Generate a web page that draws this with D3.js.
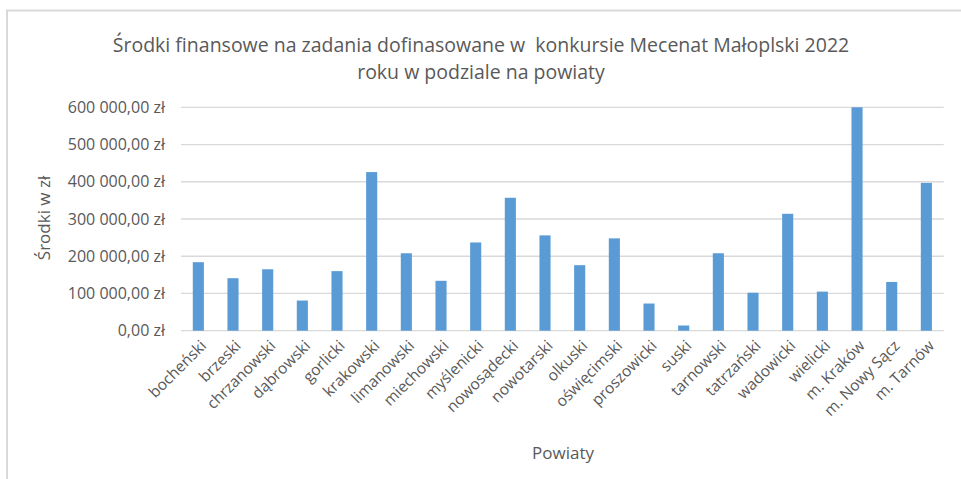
<!DOCTYPE html>
<html><head><meta charset="utf-8">
<script src="https://cdn.jsdelivr.net/npm/d3@7"></script>
<style>body{margin:0;background:#fff}svg{display:block}text{white-space:pre}</style>
</head><body>
<svg id="c" width="961" height="479"></svg>
<script>
const categories = ["bocheński","brzeski","chrzanowski","dąbrowski","gorlicki","krakowski","limanowski","miechowski","myślenicki","nowosądecki","nowotarski","olkuski","oświęcimski","proszowicki","suski","tarnowski","tatrzański","wadowicki","wielicki","m. Kraków","m. Nowy Sącz","m. Tarnów"];
const values = [184000,141000,165000,81000,160000,426000,208000,134000,237000,357000,256000,176000,248000,73000,14000,208000,102000,314000,105000,600000,131000,397000];
const yTicks = [0,100000,200000,300000,400000,500000,600000];
const titleLines = ["Środki finansowe na zadania dofinasowane w  konkursie Mecenat Małoplski 2022","roku w podziale na powiaty"];
const yTitle = "Środki w zł";
const xTitle = "Powiaty";

const font = "'Open Sans', Lato, sans-serif";
const txt = "#595959";
const svg = d3.select("#c");

// frame
svg.append("line").attr("x1",6).attr("x2",961).attr("y1",10.5).attr("y2",10.5).attr("stroke","#d9d9d9").attr("stroke-width",2);
svg.append("line").attr("x1",7).attr("x2",7).attr("y1",10).attr("y2",479).attr("stroke","#d9d9d9").attr("stroke-width",2);

const x = d3.scaleBand().domain(categories).range([181,943.7]).padding(0);
const y = d3.scaleLinear().domain([0,600000]).range([330.7,107.3]);

const fmt = v => d3.format(",.2f")(v).replace(/,/g," ").replace(".",",") + " zł";

// gridlines
svg.append("g").selectAll("line").data(yTicks).join("line")
  .attr("x1",181).attr("x2",943.7).attr("y1",d=>y(d)).attr("y2",d=>y(d))
  .attr("stroke","#d9d9d9").attr("stroke-width",1.3);

// y labels
svg.append("g").selectAll("text").data(yTicks).join("text")
  .attr("x",165).attr("y",d=>y(d)).attr("dy","0.35em").attr("text-anchor","end")
  .attr("font-family",font).attr("font-size",16).attr("fill",txt).text(fmt);

// bars
const bw = x.bandwidth();
svg.append("g").selectAll("rect").data(values).join("rect")
  .attr("x",(d,i)=>x(categories[i])+bw*0.34).attr("width",bw*0.32)
  .attr("y",d=>y(d)).attr("height",d=>y(0)-y(d)).attr("fill","#5b9bd5");

// x labels
svg.append("g").selectAll("text").data(categories).join("text")
  .attr("transform",d=>`translate(${x(d)+bw/2+5},${343}) rotate(-45)`)
  .attr("text-anchor","end").attr("dy","0.35em")
  .attr("font-family",font).attr("font-size",15.5).attr("fill",txt).text(d=>d);

// title
svg.append("g").selectAll("text").data(titleLines).join("text")
  .attr("x",481).attr("y",(d,i)=>52+i*27).attr("text-anchor","middle")
  .attr("font-family",font).attr("font-size",19.5).attr("fill",txt).text(d=>d);

// axis titles
svg.append("text").attr("transform","translate(50,218) rotate(-90)").attr("text-anchor","middle")
  .attr("font-family",font).attr("font-size",17).attr("fill",txt).text(yTitle);
svg.append("text").attr("x",563).attr("y",459).attr("text-anchor","middle")
  .attr("font-family",font).attr("font-size",17).attr("fill",txt).text(xTitle);
</script>
</body></html>
